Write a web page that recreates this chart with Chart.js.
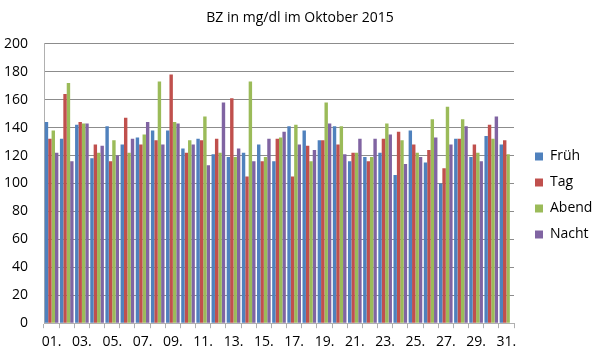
<!DOCTYPE html>
<html>
<head>
<meta charset="utf-8">
<script src="https://cdn.jsdelivr.net/npm/chart.js@4/dist/chart.umd.min.js"></script>
<style>
html,body{margin:0;padding:0;background:#fff;}
#wrap{width:600px;height:357px;position:relative;}
</style>
</head>
<body>
<div id="wrap"><canvas id="c" width="600" height="357"></canvas></div>
<script>
const days = ["01.","02.","03.","04.","05.","06.","07.","08.","09.","10.","11.","12.","13.","14.","15.","16.","17.","18.","19.","20.","21.","22.","23.","24.","25.","26.","27.","28.","29.","30.","31."];
const frueh = [144,132,142,118,141,128,133,138,138,125,132,121,119,122,128,116,141,138,131,141,116,119,122,106,138,115,100,132,119,134,128];
const tag   = [132,164,144,128,116,147,128,131,178,122,131,132,161,105,116,132,105,127,131,128,122,116,132,137,128,124,111,132,128,142,131];
const abend = [138,172,143,122,131,122,135,173,144,131,148,122,119,173,119,133,142,116,158,141,122,119,143,131,122,146,155,146,122,132,121];
const nacht = [122,116,143,127,120,132,144,128,143,128,113,158,125,116,132,137,128,124,143,121,132,132,135,114,119,133,128,141,116,148,null];
const yTicks = [0,20,40,60,80,100,120,140,160,180,200];

const font = "'Open Sans', 'Liberation Sans', sans-serif";
const legendShift = {
  id:'legendShift',
  afterLayout(chart){
    const lg = chart.legend;
    if(lg){ lg.top += 13; lg.bottom += 13; lg.left += 9; lg.right += 9; }
  }
};
const ch = new Chart(document.getElementById('c'), {
  type: 'bar',
  data: {
    labels: days,
    datasets: [
      {label:'Früh', data:frueh, backgroundColor:'#4F81BD'},
      {label:'Tag', data:tag, backgroundColor:'#C0504D'},
      {label:'Abend', data:abend, backgroundColor:'#9BBB59'},
      {label:'Nacht', data:nacht, backgroundColor:'#8064A2'}
    ]
  },
  plugins:[legendShift],
  options: {
    responsive:false,
    animation:false,
    layout:{padding:{left:0,right:0,top:10,bottom:2}},
    datasets:{bar:{categoryPercentage:0.9, barPercentage:1.0}},
    plugins:{
      title:{display:true,text:'BZ in mg/dl im Oktober 2015',color:'#000',font:{family:font,size:14,weight:'normal'},padding:{top:0,bottom:17}},
      legend:{position:'right',align:'center',labels:{color:'#000',boxWidth:8,boxHeight:8,padding:12,font:{family:font,size:14}}},
      tooltip:{enabled:false}
    },
    scales:{
      x:{
        grid:{display:true,drawOnChartArea:false,drawTicks:true,tickLength:5,color:'#B0B0B0',offset:true},
        border:{display:true,color:'#B0B0B0'},
        ticks:{autoSkip:false,maxRotation:0,minRotation:0,padding:5,color:'#000',font:{family:font,size:14},
          callback:function(v,i){return i%2===0?days[i]:'';}}
      },
      y:{
        min:0,max:200,
        afterBuildTicks:function(ax){ax.ticks=yTicks.map(v=>({value:v}));},
        afterFit:function(s){s.width=44;},
        grid:{color:'#8C8C8C',drawTicks:false},
        border:{display:true,color:'#B0B0B0'},
        ticks:{color:'#000',padding:16,font:{family:font,size:14}}
      }
    }
  }
});
const origFit = ch.legend.fit;
ch.legend.fit = function(){ origFit.call(this); this.width = 86; };
ch.update();
</script>
</body>
</html>
